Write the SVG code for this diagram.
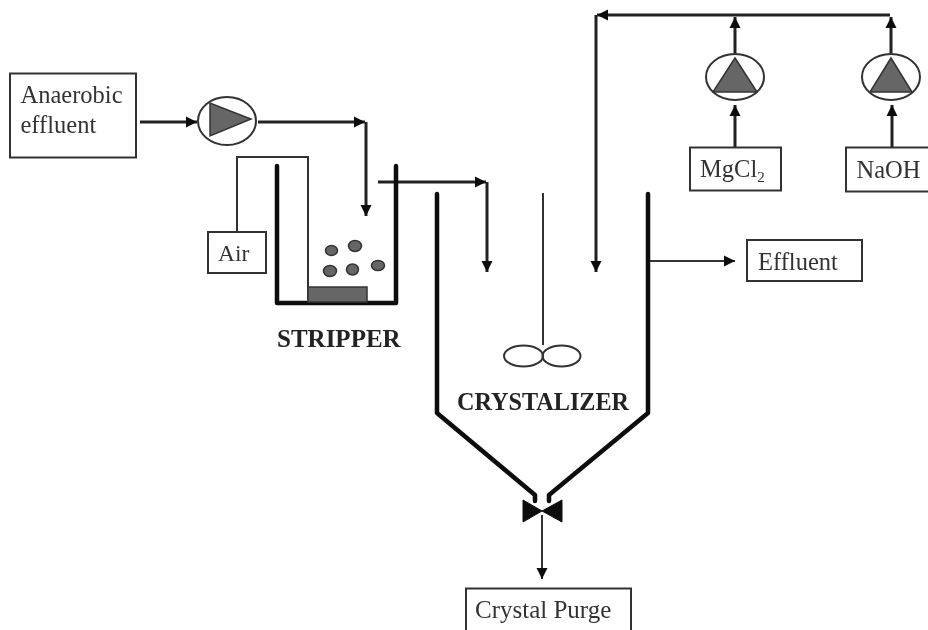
<svg xmlns="http://www.w3.org/2000/svg" width="928" height="630" viewBox="0 0 928 630">
<style>
.box{fill:#fff;stroke:#333;stroke-width:2}
.t{font-family:"Liberation Serif","Times New Roman",serif;font-size:24.500px;fill:#333}
.b{font-family:"Liberation Serif","Times New Roman",serif;font-size:24.500px;font-weight:bold;fill:#222}
.w{fill:none;stroke:#111;stroke-width:4.500;stroke-linejoin:round;stroke-linecap:round}
.c{fill:none;stroke:#222;stroke-width:3}
.n{fill:none;stroke:#333;stroke-width:2}
.p{fill:#fff;stroke:#333;stroke-width:2}
.g{fill:#666;stroke:#333;stroke-width:1.500}
</style>
<defs>
<marker id="a" markerUnits="userSpaceOnUse" markerWidth="14" markerHeight="14" refX="12" refY="7" orient="auto"><path d="M1 1.500L12 7L1 12.500Z" fill="#111"/></marker>
<filter id="s" filterUnits="userSpaceOnUse" x="0" y="0" width="928" height="630"><feGaussianBlur stdDeviation="0.6"/></filter>
</defs>
<rect width="928" height="630" fill="#fff"/>
<g filter="url(#s)">
<g id="connectors">
<path class="c" marker-end="url(#a)" d="M140 122H197"/>
<path class="c" marker-end="url(#a)" d="M258 122H365"/>
<path class="c" marker-end="url(#a)" d="M366 122V216"/>
<path class="n" d="M237 232V157H308V300"/>
<path class="c" marker-end="url(#a)" d="M378 182H486"/>
<path class="c" marker-end="url(#a)" d="M487 182V272"/>
<path class="c" marker-end="url(#a)" d="M890 15H597"/>
<path class="c" marker-end="url(#a)" d="M596 15V272"/>
<path class="c" marker-end="url(#a)" d="M735 53V17"/>
<path class="c" marker-end="url(#a)" d="M891 53V17"/>
<path class="c" marker-end="url(#a)" d="M735 147V105"/>
<path class="c" marker-end="url(#a)" d="M892 147V105"/>
<path class="n" marker-end="url(#a)" d="M649 261H735"/>
<path class="n" marker-end="url(#a)" d="M542 515V579"/>
</g>
<g id="anaerobic-effluent">
<rect class="box" x="10" y="73.500" width="126" height="84"/>
<text class="t" x="20.500" y="103">Anaerobic</text>
<text class="t" x="20.500" y="133">effluent</text>
</g>
<g id="pump-feed">
<ellipse class="p" cx="227" cy="121" rx="29" ry="24"/>
<path class="g" d="M210 103L210 136L251 119Z"/>
</g>
<g id="air">
<rect class="box" x="208" y="232" width="58" height="41"/>
<text class="t" x="218" y="261" style="font-size:23.500px">Air</text>
</g>
<g id="stripper">
<path class="w" d="M277 166V303H396V166"/>
<rect class="g" x="308" y="287" width="59" height="15"/>
<ellipse class="g" cx="331.500" cy="250.500" rx="6" ry="5"/>
<ellipse class="g" cx="355" cy="246" rx="6.500" ry="5.500"/>
<ellipse class="g" cx="330" cy="271" rx="6.500" ry="5.500"/>
<ellipse class="g" cx="352.500" cy="269.500" rx="6" ry="5.500"/>
<ellipse class="g" cx="378" cy="265.500" rx="6.500" ry="5"/>
<text class="b" x="277" y="347" style="font-size:25px">STRIPPER</text>
</g>
<g id="crystalizer">
<path class="w" d="M437 194V413L535 495V501"/>
<path class="w" d="M648 194V413L549 495V501"/>
<path class="n" d="M543 193V345"/>
<ellipse class="n" cx="523.500" cy="356" rx="19.500" ry="10.500"/>
<ellipse class="n" cx="561.500" cy="356" rx="19" ry="10.500"/>
<text class="b" x="457" y="410" style="font-size:24.200px">CRYSTALIZER</text>
</g>
<g id="valve">
<path d="M523 500L523 522L542 511Z M562 500L562 522L542 511Z" fill="#111" stroke="#111"/>
</g>
<g id="crystal-purge">
<path class="box" d="M466 630V588.500H631V630"/>
<text class="t" x="475" y="618" style="font-size:25px">Crystal Purge</text>
</g>
<g id="pump-mgcl2">
<ellipse class="p" cx="735" cy="77" rx="29" ry="23"/>
<path class="g" d="M735 58L713 92H757Z"/>
</g>
<g id="pump-naoh">
<ellipse class="p" cx="891" cy="77" rx="29" ry="23"/>
<path class="g" d="M891 58L870 92H912Z"/>
</g>
<g id="mgcl2">
<rect class="box" x="690" y="147.500" width="91" height="43"/>
<text class="t" x="700" y="177">MgCl<tspan font-size="15" dy="5">2</tspan></text>
</g>
<g id="naoh">
<rect class="box" x="846" y="147.500" width="90" height="44"/>
<text class="t" x="856.500" y="178">NaOH</text>
</g>
<g id="effluent">
<rect class="box" x="747" y="240" width="115" height="41"/>
<text class="t" x="758" y="270">Effluent</text>
</g>
</g>
</svg>
